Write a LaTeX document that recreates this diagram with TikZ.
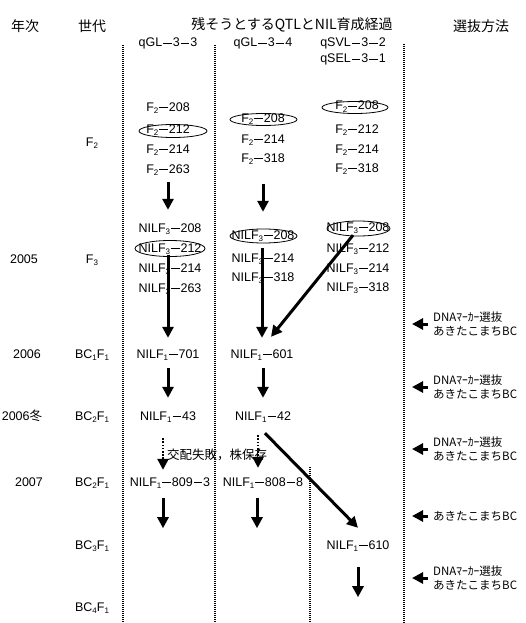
\documentclass[tikz,border=0pt]{standalone}
\usepackage{fontspec}
\setmainfont{Liberation Sans}
\newfontfamily\jp{Noto Sans CJK JP}
\usetikzlibrary{arrows.meta}
\newcommand{\dsh}{\makebox[10.5pt]{\rule[3.5pt]{8.5pt}{0.8pt}}}
\newcommand{\sbs}[1]{\raisebox{-2.2pt}{\fontsize{8}{9}\selectfont #1}}
\begin{document}
\begin{tikzpicture}[x=1pt,y=-1pt,
  t/.style={inner sep=0pt,text height=8.5pt,text depth=2.5pt,font=\fontsize{12.5}{14}\selectfont},
  hd/.style={inner sep=0pt,font=\jp\fontsize{14}{16}\selectfont},
  note/.style={inner sep=0pt,anchor=west,align=left,font=\jp\fontsize{11.5}{14}\selectfont},
  divider/.style={line width=2pt,dash pattern=on 1.1pt off 0.9pt},
  arr/.style={line width=3pt,-{Triangle[width=11pt,length=11pt]}},
  darr/.style={line width=2.4pt,dash pattern=on 1.6pt off 1.6pt,-{Triangle[width=11pt,length=11pt]}},
  ell/.style={line width=0.8pt}]
\useasboundingbox (0,0) rectangle (525,623);
% headers
\node[hd] (hyr) at (25,26) {年次};
\node[hd] (hgen) at (92,26) {世代};
\node[hd] (htitle) at (292,25) {残そうとするQTLとNIL育成経過};
\node[hd] (hsel) at (481,26) {選抜方法};
% dividers
\draw[divider] (123,45) -- (123,623);
\draw[divider] (215,45) -- (215,623);
\draw[divider] (404,44) -- (404,623);
\draw[divider] (310,467) -- (310,623);
% column heads
\node[t] (q1) at (168,44) {qGL\dsh3\dsh3};
\node[t] (q2) at (263,44) {qGL\dsh3\dsh4};
\node[t] (q3) at (353,44) {qSVL\dsh3\dsh2};
\node[t] (q4) at (353,60) {qSEL\dsh3\dsh1};
% years
\node[t] (y05) at (24,260) {2005};
\node[t] (y06) at (27,355) {2006};
\node[t] (y06w) at (22,417) {2006{\jp 冬}};
\node[t] (y07) at (29,483) {2007};
% generations
\node[t] (g1) at (92,143) {F\sbs{2}};
\node[t] (g2) at (92,260) {F\sbs{3}};
\node[t] (g3) at (92,355) {BC\sbs{1}F\sbs{1}};
\node[t] (g4) at (92,417) {BC\sbs{2}F\sbs{1}};
\node[t] (g5) at (92,483) {BC\sbs{2}F\sbs{1}};
\node[t] (g6) at (92,546) {BC\sbs{3}F\sbs{1}};
\node[t] (g7) at (92,608) {BC\sbs{4}F\sbs{1}};
% F2
\node[t] (c1f2a) at (168,108) {F\sbs{2}\dsh208};
\node[t] (c1f2b) at (168,130) {F\sbs{2}\dsh212};
\node[t] (c1f2c) at (168,150) {F\sbs{2}\dsh214};
\node[t] (c1f2d) at (168,170) {F\sbs{2}\dsh263};
\node[t] (c2f2a) at (263,119) {F\sbs{2}\dsh208};
\node[t] (c2f2b) at (263,140) {F\sbs{2}\dsh214};
\node[t] (c2f2c) at (263,159) {F\sbs{2}\dsh318};
\node[t] (c3f2a) at (357,107) {F\sbs{2}\dsh208};
\node[t] (c3f2b) at (357,130) {F\sbs{2}\dsh212};
\node[t] (c3f2c) at (357,150) {F\sbs{2}\dsh214};
\node[t] (c3f2d) at (357,169) {F\sbs{2}\dsh318};
% F3
\node[t] (c1f3a) at (170,229) {NILF\sbs{3}\dsh208};
\node[t] (c1f3b) at (170,249) {NILF\sbs{3}\dsh212};
\node[t] (c1f3c) at (170,269) {NILF\sbs{3}\dsh214};
\node[t] (c1f3d) at (170,289) {NILF\sbs{3}\dsh263};
\node[t] (c2f3a) at (263,236) {NILF\sbs{3}\dsh208};
\node[t] (c2f3b) at (263,259) {NILF\sbs{3}\dsh214};
\node[t] (c2f3c) at (263,278) {NILF\sbs{3}\dsh318};
\node[t] (c3f3a) at (358,228) {NILF\sbs{3}\dsh208};
\node[t] (c3f3b) at (358,249) {NILF\sbs{3}\dsh212};
\node[t] (c3f3c) at (358,269) {NILF\sbs{3}\dsh214};
\node[t] (c3f3d) at (358,288) {NILF\sbs{3}\dsh318};
% ellipses
\draw[ell] ([xshift=5pt,yshift=-1pt]c1f2b.center) ellipse [x radius=34pt,y radius=6.5pt];
\draw[ell] ([xshift=0.5pt,yshift=-0.5pt]c2f2a.center) ellipse [x radius=33.5pt,y radius=6pt];
\draw[ell] ([xshift=-2pt,yshift=-0.5pt]c3f2a.center) ellipse [x radius=33pt,y radius=6pt];
\draw[ell] ([yshift=0.5pt]c1f3b.center) ellipse [x radius=35pt,y radius=8pt];
\draw[ell] ([xshift=0.5pt]c2f3a.center) ellipse [x radius=33.5pt,y radius=7pt];
\draw[ell] ([xshift=0.5pt,yshift=-0.5pt]c3f3a.center) ellipse [x radius=31.5pt,y radius=7.5pt];
% later generations
\node[t] (c1bc1) at (168,355) {NILF\sbs{1}\dsh701};
\node[t] (c2bc1) at (262,355) {NILF\sbs{1}\dsh601};
\node[t] (c1bc2) at (168,417) {NILF\sbs{1}\dsh43};
\node[t] (c2bc2) at (263,417) {NILF\sbs{1}\dsh42};
\node[t] (c1bc3) at (170,483) {NILF\sbs{1}\dsh809\dsh3};
\node[t] (c2bc3) at (263,483) {NILF\sbs{1}\dsh808\dsh8};
\node[t] (c3bc3) at (358,546) {NILF\sbs{1}\dsh610};
\node[inner sep=0pt,anchor=west,font=\jp\fontsize{12.5}{14}\selectfont] (fail) at (167,455) {交配失敗，株保存};
% arrows
\draw[arr,shorten <=6.5pt,shorten >=13.5pt] (c1f2d.south) -- (c1f2d.south |- c1f3a.north);
\draw[arr,shorten <=19.5pt,shorten >=18.5pt] (c2f2c.south) -- (c2f3a.north);
\draw[arr,shorten >=11.5pt] (c1bc1.north |- c1f3b.south) -- (c1bc1.north);
\draw[arr,shorten <=6.5pt,shorten >=11.5pt] (c2bc1.north |- c2f3a.south) -- (c2bc1.north);
\draw[arr] ([xshift=-5pt,yshift=-1.5pt]c3f3a.south) -- ([xshift=9pt,yshift=12.5pt]c2bc1.north);
\draw[arr,shorten <=7.5pt,shorten >=13.5pt] (c1bc1.south) -- (c1bc2.north);
\draw[arr,shorten <=7.5pt,shorten >=13.5pt] (c2bc1.south -| c2bc2.north) -- (c2bc2.north);
\draw[darr,shorten <=15.5pt,shorten >=7.5pt] ([xshift=-5pt]c1bc2.south) -- ([xshift=-5pt]c1bc2.south |- c1bc3.north);
\draw[darr,shorten <=12.5pt,shorten >=9.5pt] ([xshift=-5pt]c2bc2.south) -- ([xshift=-5pt]c2bc2.south |- c2bc3.north);
\draw[arr] ([xshift=2pt,yshift=-10.5pt]c2bc2.south) -- ([yshift=12.5pt]c3bc3.north);
\draw[arr] ([xshift=-7pt,yshift=-9.5pt]c1bc3.south) -- ++(0,30);
\draw[arr] ([xshift=-6pt,yshift=-9.5pt]c2bc3.south) -- ++(0,30);
\draw[arr] ([yshift=-15.5pt]c3bc3.south) -- ++(0,30);
% selection notes
\node[note] (n1) at (433,324) {DNAﾏｰｶｰ選抜\\あきたこまちBC};
\node[note] (n2) at (433,387) {DNAﾏｰｶｰ選抜\\あきたこまちBC};
\node[note] (n3) at (433,449) {DNAﾏｰｶｰ選抜\\あきたこまちBC};
\node[note] (n4) at (433,516) {あきたこまちBC};
\node[note] (n5) at (433,578) {DNAﾏｰｶｰ選抜\\あきたこまちBC};
\foreach \n in {n1,n2,n3,n4,n5}
  \draw[arr] ([xshift=-5pt]\n.west) -- ++(-16,0);
\end{tikzpicture}
\end{document}
